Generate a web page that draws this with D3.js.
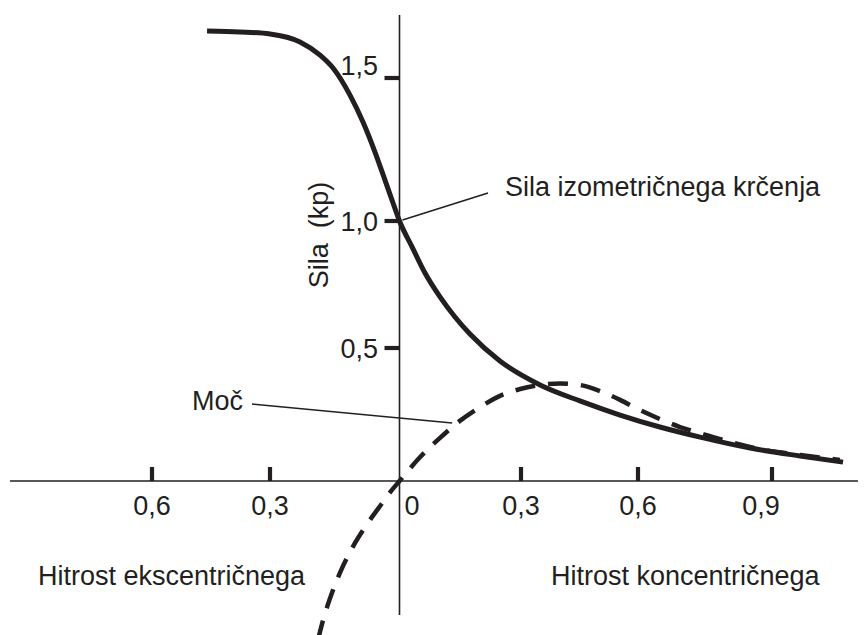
<!DOCTYPE html>
<html>
<head>
<meta charset="utf-8">
<script src="https://cdn.jsdelivr.net/npm/d3@7"></script>
<style>
  body { margin: 0; background: #fff; }
  svg text { font-family: "Liberation Sans", Arial, Helvetica, sans-serif; fill: #231f20; }
</style>
</head>
<body>
<div id="chart"></div>
<script>
// velocity (negative = eccentric side, left of the axis)
var forceX = [-0.460, -0.376, -0.300, -0.2305, -0.184, -0.154, -0.115, -0.0846, -0.0568, -0.0336, -0.015, 0,
              0.031, 0.063, 0.100, 0.137, 0.174, 0.248, 0.349, 0.451, 0.554, 0.649, 0.739, 0.851, 0.963, 1.059];
var forceY = [1.664, 1.661, 1.654, 1.626, 1.580, 1.535, 1.441, 1.346, 1.241, 1.143, 1.063, 1.0,
              0.898, 0.795, 0.701, 0.622, 0.555, 0.451, 0.361, 0.301, 0.248, 0.203, 0.165, 0.124, 0.094, 0.071];

var powerX = [-0.189, -0.177, -0.154, -0.131, -0.103, -0.075, -0.045, -0.022, 0, 0.051, 0.100, 0.149, 0.199,
              0.248, 0.298, 0.349, 0.400, 0.451, 0.503, 0.554, 0.604, 0.649, 0.694, 0.739, 0.806, 0.873, 0.963, 1.052];
var powerY = [-0.598, -0.523, -0.410, -0.320, -0.233, -0.162, -0.094, -0.043, 0, 0.090, 0.162, 0.226, 0.278,
              0.320, 0.346, 0.361, 0.367, 0.361, 0.338, 0.305, 0.267, 0.233, 0.203, 0.180, 0.147, 0.120, 0.098, 0.079];

var xTicks = [-0.6, -0.3, 0, 0.3, 0.6, 0.9];
var xTickLabels = ['0,6', '0,3', '0', '0,3', '0,6', '0,9'];
var yTicks = [0.5, 1.0, 1.5];
var yTickLabels = ['0,5', '1,0', '1,5'];

var yTitle = 'Sila  (kp)';
var forceLabel = 'Sila izometričnega krčenja';
var powerLabel = 'Moč';
var leftTitle = 'Hitrost ekscentričnega';
var rightTitle = 'Hitrost koncentričnega';

var W = 868, H = 635;
var ink = '#231f20';

// the drawing isn't evenly spaced, so piecewise scales
var x = d3.scaleLinear()
  .domain([-0.6, -0.3, 0, 0.3, 0.6, 0.9])
  .range([152, 270, 399.5, 521, 638, 772]);
var y = d3.scaleLinear()
  .domain([0, 0.5, 1.0, 1.5])
  .range([481, 348, 221, 78]);

var svg = d3.select('#chart').append('svg')
  .attr('width', W)
  .attr('height', H);

svg.append('rect').attr('width', W).attr('height', H).attr('fill', '#fff');

// axes
svg.append('line')
  .attr('x1', 10).attr('x2', 858)
  .attr('y1', y(0)).attr('y2', y(0))
  .attr('stroke', ink).attr('stroke-width', 1.6);
svg.append('line')
  .attr('x1', x(0)).attr('x2', x(0))
  .attr('y1', 15).attr('y2', 615)
  .attr('stroke', ink).attr('stroke-width', 1.6);

// x ticks (0 has no mark)
svg.selectAll('.xtick')
  .data(xTicks.filter(function(d) { return d !== 0; }))
  .enter().append('line')
  .attr('class', 'xtick')
  .attr('x1', function(d) { return x(d); })
  .attr('x2', function(d) { return x(d); })
  .attr('y1', y(0) - 14)
  .attr('y2', y(0))
  .attr('stroke', ink).attr('stroke-width', 4.2);

svg.selectAll('.xlabel')
  .data(xTicks)
  .enter().append('text')
  .attr('class', 'xlabel')
  .attr('x', function(d) {
    if (d === 0) return x(d) + 5;
    if (d === 0.9) return x(d) - 11;   // label sits a bit left of its tick
    return x(d);
  })
  .attr('y', 515)
  .attr('text-anchor', function(d) { return d === 0 ? 'start' : 'middle'; })
  .style('font-size', '27px')
  .text(function(d, i) { return xTickLabels[i]; });

// y ticks
svg.selectAll('.ytick')
  .data(yTicks)
  .enter().append('line')
  .attr('class', 'ytick')
  .attr('x1', x(0) - 15)
  .attr('x2', x(0))
  .attr('y1', function(d) { return y(d); })
  .attr('y2', function(d) { return y(d); })
  .attr('stroke', ink).attr('stroke-width', 4.2);

svg.selectAll('.ylabel')
  .data(yTicks)
  .enter().append('text')
  .attr('class', 'ylabel')
  .attr('x', 378)
  .attr('y', function(d) { return y(d) + (d === 1.5 ? -3 : 10); })
  .attr('text-anchor', 'end')
  .style('font-size', '27px')
  .text(function(d, i) { return yTickLabels[i]; });

svg.append('text')
  .attr('transform', 'translate(328,235)rotate(-90)')
  .attr('text-anchor', 'middle')
  .style('font-size', '27px')
  .style('white-space', 'pre')
  .attr('xml:space', 'preserve')
  .text(yTitle);

var line = d3.line()
  .x(function(d) { return x(d[0]); })
  .y(function(d) { return y(d[1]); })
  .curve(d3.curveMonotoneX);

var forceData = forceX.map(function(v, i) { return [v, forceY[i]]; });
var powerData = powerX.map(function(v, i) { return [v, powerY[i]]; });

svg.append('path')
  .datum(powerData)
  .attr('d', line)
  .attr('fill', 'none')
  .attr('stroke', ink)
  .attr('stroke-width', 4.5)
  .attr('stroke-dasharray', '20,13');

svg.append('path')
  .datum(forceData)
  .attr('d', line)
  .attr('fill', 'none')
  .attr('stroke', ink)
  .attr('stroke-width', 5);

// leader lines
svg.append('line')
  .attr('x1', x(0) + 3).attr('y1', y(1.0) - 1)
  .attr('x2', 488).attr('y2', 193)
  .attr('stroke', ink).attr('stroke-width', 1.5);
svg.append('line')
  .attr('x1', 252).attr('y1', 404)
  .attr('x2', x(0.130)).attr('y2', y(0.218))
  .attr('stroke', ink).attr('stroke-width', 1.5);

svg.append('text')
  .attr('x', 505).attr('y', 196)
  .style('font-size', '27px')
  .text(forceLabel);
svg.append('text')
  .attr('x', 192).attr('y', 410)
  .style('font-size', '27px')
  .text(powerLabel);

svg.append('text')
  .attr('x', 38).attr('y', 585)
  .style('font-size', '27px')
  .text(leftTitle);
svg.append('text')
  .attr('x', 551).attr('y', 585)
  .style('font-size', '27px')
  .text(rightTitle);
</script>
</body>
</html>
